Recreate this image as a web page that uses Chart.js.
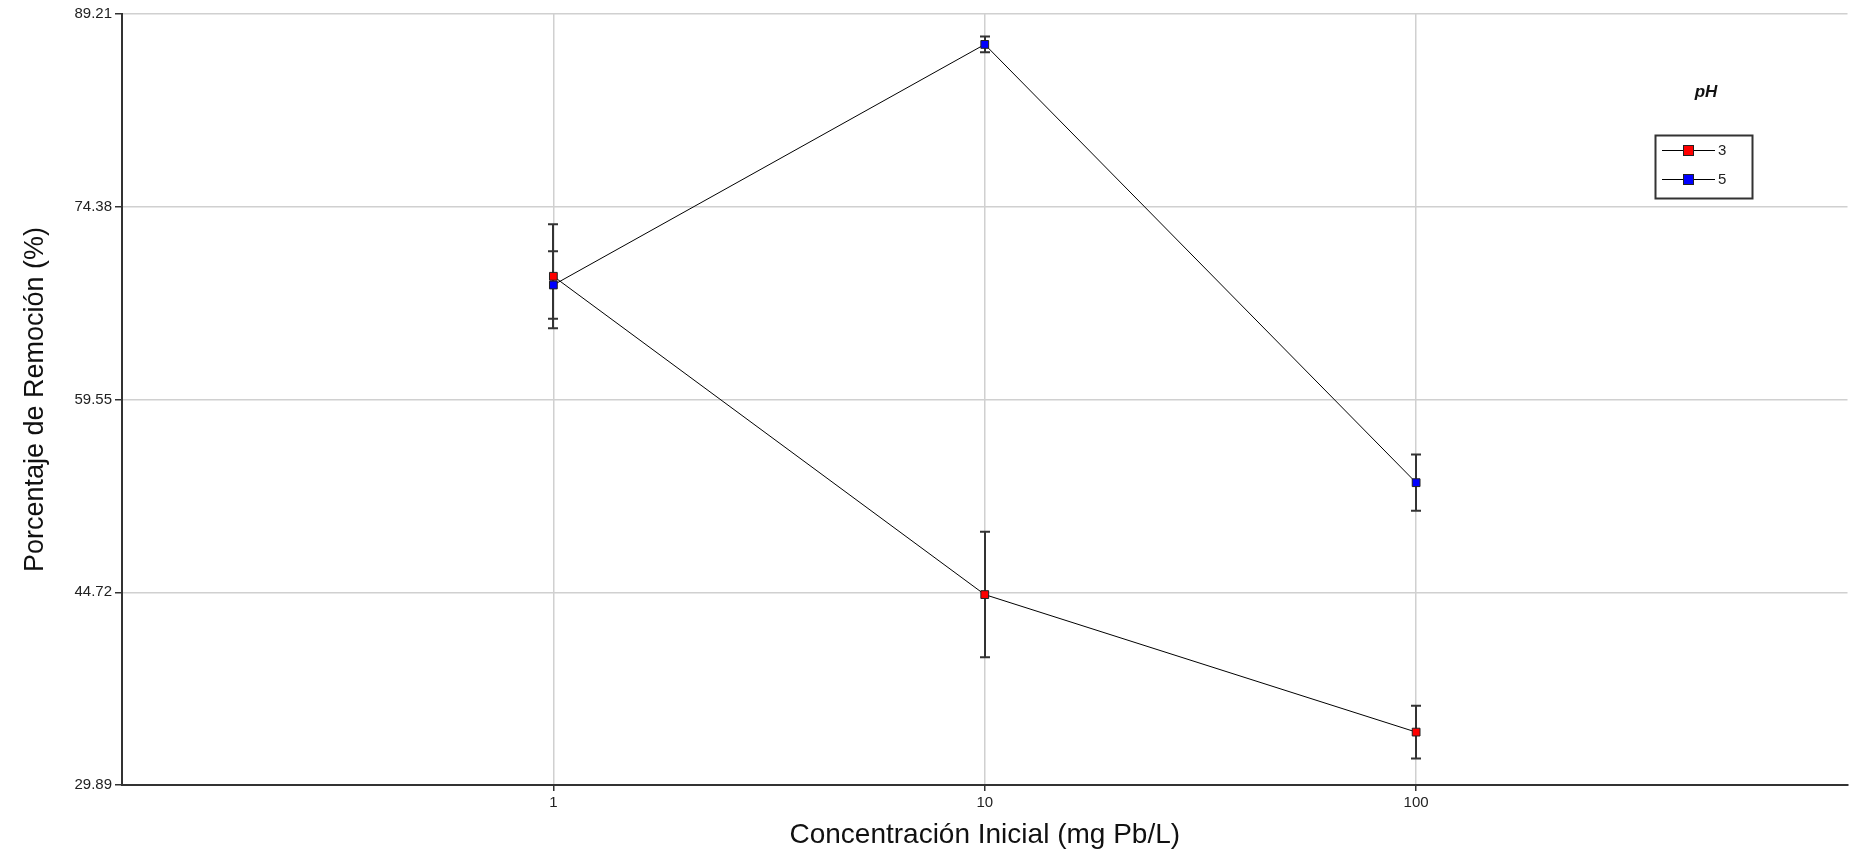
<!DOCTYPE html>
<html>
<head>
<meta charset="utf-8">
<script src="https://cdn.jsdelivr.net/npm/chart.js@4"></script>
<style>
  html, body { margin: 0; padding: 0; background: #fff; }
  #wrap { width: 1854px; height: 858px; }
</style>
</head>
<body>
<div id="wrap"><canvas id="chart" width="1854" height="858"></canvas></div>
<script>
const concentraciones = [1, 10, 100];
const xTicks = [1, 10, 100];
const yTicks = [29.89, 44.72, 59.55, 74.38, 89.21];

const remocionPh3 = [69.03, 44.54, 33.96];
const errorPh3 = [4.0, 4.83, 2.03];
const remocionPh5 = [68.36, 86.87, 53.15];
const errorPh5 = [2.6, 0.6, 2.16];

const series = [
    { label: '3', values: remocionPh3, errors: errorPh3, color: '#ff0000' },
    { label: '5', values: remocionPh5, errors: errorPh5, color: '#0000ff' }
];

const FONT = '"Liberation Sans", Arial, sans-serif';

// barras de error, debajo de los marcadores
const errorBars = {
    id: 'errorBars',
    beforeDatasetsDraw(chart) {
        const { ctx, scales: { x, y } } = chart;
        ctx.save();
        ctx.strokeStyle = '#333';
        ctx.lineWidth = 2;
        series.forEach(s => {
            s.values.forEach((v, i) => {
                const px = Math.round(x.getPixelForValue(concentraciones[i]));
                const top = y.getPixelForValue(v + s.errors[i]);
                const bot = y.getPixelForValue(v - s.errors[i]);
                ctx.beginPath();
                ctx.moveTo(px, top);
                ctx.lineTo(px, bot);
                ctx.moveTo(px - 5, top);
                ctx.lineTo(px + 5, top);
                ctx.moveTo(px - 5, bot);
                ctx.lineTo(px + 5, bot);
                ctx.stroke();
            });
        });
        ctx.restore();
    }
};

const legendBox = {
    id: 'legendBox',
    afterDraw(chart) {
        const ctx = chart.ctx;
        ctx.save();
        ctx.fillStyle = '#111';
        ctx.font = 'italic bold 17px ' + FONT;
        ctx.textAlign = 'center';
        ctx.textBaseline = 'middle';
        ctx.fillText('pH', 1706, 92);

        ctx.strokeStyle = '#333';
        ctx.lineWidth = 2;
        ctx.strokeRect(1655.5, 135.5, 97, 63);

        ctx.font = '15px ' + FONT;
        ctx.textAlign = 'left';
        series.forEach((s, i) => {
            const yy = 150 + i * 29;
            ctx.strokeStyle = '#000';
            ctx.lineWidth = 1;
            ctx.beginPath();
            ctx.moveTo(1662, yy + 0.5);
            ctx.lineTo(1715, yy + 0.5);
            ctx.stroke();
            ctx.fillStyle = s.color;
            ctx.fillRect(1683.5, yy - 4.5, 10, 10);
            ctx.strokeStyle = '#222';
            ctx.strokeRect(1683.5, yy - 4.5, 10, 10);
            ctx.fillStyle = '#222';
            ctx.fillText(s.label, 1718, yy + 1);
        });
        ctx.restore();
    }
};

new Chart(document.getElementById('chart'), {
    type: 'line',
    data: {
        datasets: series.map(s => ({
            label: s.label,
            data: concentraciones.map((c, i) => ({ x: c, y: s.values[i] })),
            borderColor: '#000',
            borderWidth: 1,
            backgroundColor: s.color,
            pointStyle: 'rect',
            pointRadius: 5.5,
            pointBorderColor: '#222',
            pointBorderWidth: 1,
            tension: 0
        }))
    },
    options: {
        responsive: false,
        animation: false,
        layout: { padding: { top: 14, right: 3, left: 0, bottom: 0 } },
        plugins: {
            legend: { display: false },
            tooltip: { enabled: false }
        },
        scales: {
            x: {
                type: 'logarithmic',
                min: 0.1,
                max: 1000,
                afterBuildTicks: scale => {
                    scale.ticks = xTicks.map(v => ({ value: v }));
                },
                afterFit: scale => { scale.height = 73; },
                ticks: {
                    callback: v => String(v),
                    color: '#222',
                    font: { family: FONT, size: 15 },
                    padding: 3,
                    maxRotation: 0
                },
                grid: { color: '#d0d0d0', lineWidth: 1.5, tickColor: '#333', tickLength: 6 },
                border: { color: '#333', width: 2 },
                title: {
                    display: true,
                    text: 'Concentración Inicial (mg Pb/L)',
                    color: '#111',
                    font: { family: FONT, size: 28 },
                    padding: { top: 4, bottom: 6 }
                }
            },
            y: {
                min: 29.89,
                max: 89.21,
                afterBuildTicks: scale => {
                    scale.ticks = yTicks.map(v => ({ value: v }));
                },
                afterFit: scale => { scale.width = 122; },
                ticks: {
                    callback: v => v.toFixed(2),
                    color: '#222',
                    font: { family: FONT, size: 15 },
                    padding: 3
                },
                grid: { color: '#d0d0d0', lineWidth: 1.5, tickColor: '#333', tickLength: 7 },
                border: { color: '#333', width: 2 },
                title: {
                    display: true,
                    text: 'Porcentaje de Remoción (%)',
                    color: '#111',
                    font: { family: FONT, size: 27 },
                    padding: { top: 19, bottom: 0 }
                }
            }
        }
    },
    plugins: [errorBars, legendBox]
});
</script>
</body>
</html>
